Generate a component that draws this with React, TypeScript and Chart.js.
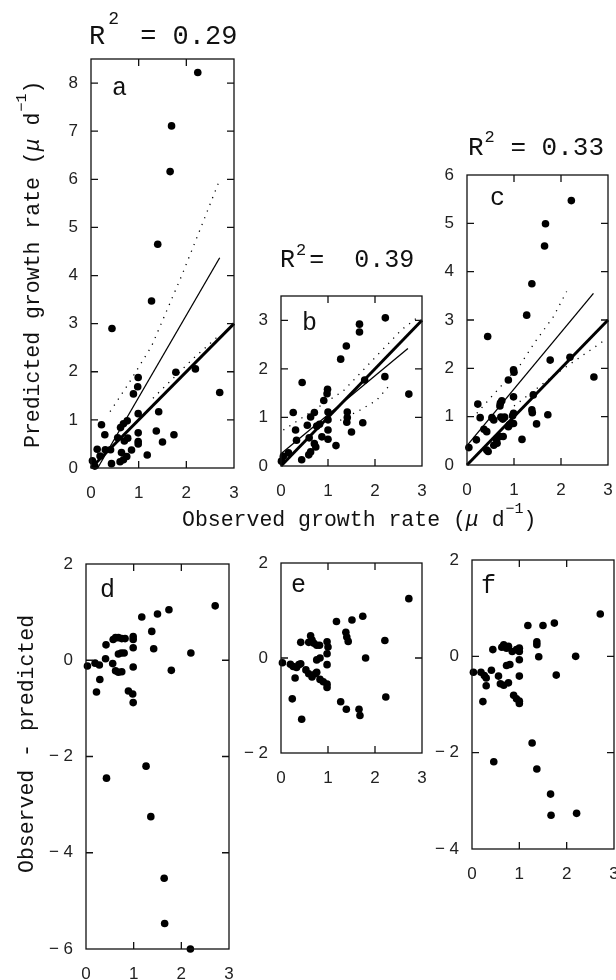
import React, { useEffect, useRef } from "react";
import { Chart, registerables } from "chart.js";

Chart.register(...registerables);

// ---------------- data ----------------
const OBS_TICKS = [0, 1, 2, 3];
const A_TICKS = [0, 1, 2, 3, 4, 5, 6, 7, 8];
const B_TICKS = [0, 1, 2, 3];
const C_TICKS = [0, 1, 2, 3, 4, 5, 6];
const D_TICKS = [-6, -4, -2, 0, 2];
const E_TICKS = [-2, 0, 2];
const F_TICKS = [-4, -2, 0, 2];

const R2_VALUES = ["0.29", "0.39", "0.33"];
const LETTERS = ["a", "b", "c", "d", "e", "f"];

// panel a: observed vs predicted
const aObs = [2.24, 1.69, 1.66, 1.40, 1.27, 0.44, 1.78, 2.19, 2.70, 0.99, 0.98, 0.89, 0.99, 0.99, 0.99, 0.99, 1.42, 1.37, 1.50, 1.74, 1.18, 0.22, 0.29, 0.30, 0.19, 0.03, 0.08, 0.43, 0.41, 0.56, 0.62, 0.68, 0.76, 0.70, 0.77, 0.61, 0.68, 0.75, 0.85, 0.64, 0.13];
const aPred = [8.22, 7.11, 6.16, 4.65, 3.47, 2.90, 1.99, 2.06, 1.57, 1.88, 1.69, 1.54, 1.13, 0.73, 0.55, 0.50, 1.17, 0.77, 0.54, 0.69, 0.27, 0.90, 0.69, 0.38, 0.25, 0.15, 0.04, 0.09, 0.38, 0.63, 0.84, 0.92, 0.98, 0.56, 0.62, 0.13, 0.17, 0.24, 0.375, 0.32, 0.39];
const aFitObs = [0.14, 2.70];
const aFitPred = [0.0, 4.37];
const aUpperObs = [0.40, 0.78, 1.27, 1.90, 2.29, 2.68];
const aUpperPred = [1.17, 1.74, 2.53, 3.99, 4.96, 5.94];
const aLowerObs = [1.30, 2.15, 2.67];
const aLowerPred = [1.45, 2.28, 2.74];

// panel b
const bObs = [2.22, 1.67, 1.67, 1.39, 1.27, 2.21, 2.72, 1.78, 0.45, 0.99, 0.98, 0.91, 0.26, 0.71, 0.63, 1.00, 1.00, 1.41, 1.41, 1.40, 1.74, 1.50, 0.56, 0.76, 0.82, 0.31, 1.00, 1.00, 0.33, 0.60, 0.87, 0.71, 0.74, 1.17, 0.63, 0.59, 0.44, 0.05, 0.01, 0.16];
const bPred = [3.05, 2.92, 2.76, 2.47, 2.20, 1.84, 1.48, 1.77, 1.72, 1.58, 1.49, 1.35, 1.10, 1.10, 1.01, 1.11, 0.95, 1.11, 1.00, 0.90, 0.89, 0.70, 0.84, 0.82, 0.86, 0.74, 0.74, 0.55, 0.53, 0.58, 0.60, 0.46, 0.39, 0.42, 0.29, 0.23, 0.13, 0.20, 0.10, 0.27];
const bFitObs = [0.0, 2.70];
const bFitPred = [0.25, 2.42];
const bUpperObs = [0.05, 1.33, 2.56, 2.88];
const bUpperPred = [0.74, 1.55, 2.80, 3.04];
const bLowerObs = [1.26, 1.68, 2.03, 2.31];
const bLowerPred = [0.94, 1.15, 1.35, 1.66];

// panel c
const cObs = [2.22, 1.67, 1.65, 1.38, 1.27, 0.44, 1.77, 2.19, 2.70, 0.99, 1.00, 0.88, 0.99, 1.41, 1.38, 1.39, 1.72, 1.48, 1.17, 0.23, 0.28, 0.53, 0.57, 0.71, 0.74, 0.70, 0.76, 0.72, 0.80, 0.99, 0.97, 0.36, 0.42, 0.90, 0.95, 0.88, 0.99, 0.70, 0.77, 0.63, 0.64, 0.57, 0.42, 0.45, 0.20, 0.04];
const cPred = [5.47, 4.99, 4.53, 3.75, 3.10, 2.66, 2.17, 2.23, 1.82, 1.97, 1.92, 1.76, 1.41, 1.45, 1.14, 1.08, 1.04, 0.85, 0.53, 1.26, 0.98, 0.98, 0.93, 1.28, 1.33, 1.22, 0.95, 0.99, 0.99, 1.07, 1.02, 0.74, 0.69, 0.83, 0.86, 0.79, 0.86, 0.59, 0.59, 0.52, 0.45, 0.41, 0.31, 0.28, 0.52, 0.36];
const cFitObs = [0.0, 2.69];
const cFitPred = [0.40, 3.55];
const cUpperObs = [0.21, 0.49, 1.13, 1.45, 1.84, 2.12];
const cUpperPred = [1.07, 1.38, 2.07, 2.55, 3.07, 3.59];
const cLowerObs = [1.00, 1.84, 2.94];
const cLowerPred = [1.22, 1.85, 2.59];

// 1:1 line
const ONE_OBS = [0, 3];
const ONE_PRED = [0, 3];

// panel d: observed - predicted
const dObs = [2.71, 1.74, 1.50, 1.17, 1.38, 1.42, 2.20, 1.79, 0.99, 0.99, 0.99, 0.99, 0.89, 0.98, 0.99, 0.57, 0.62, 0.68, 0.75, 0.82, 0.68, 0.74, 0.80, 0.42, 0.41, 0.56, 0.62, 0.68, 0.75, 0.03, 0.19, 0.28, 0.29, 0.22, 1.26, 0.43, 1.36, 1.64, 1.65, 2.19];
const dRes = [1.13, 1.05, 0.96, 0.90, 0.60, 0.24, 0.15, -0.21, 0.49, 0.43, 0.26, -0.14, -0.64, -0.70, -0.88, 0.43, 0.47, 0.47, 0.45, 0.45, 0.13, 0.15, 0.15, 0.32, 0.03, -0.07, -0.22, -0.25, -0.24, -0.12, -0.06, -0.10, -0.40, -0.66, -2.20, -2.45, -3.25, -4.53, -5.47, -6.0];

// panel e
const eObs = [2.72, 1.74, 1.51, 1.18, 1.38, 1.40, 1.43, 2.21, 1.80, 2.23, 1.27, 1.39, 1.66, 1.68, 0.44, 0.24, 0.30, 0.03, 0.20, 0.26, 0.33, 0.38, 0.42, 0.42, 0.63, 0.66, 0.70, 0.76, 0.82, 0.59, 0.98, 1.00, 0.98, 0.76, 0.83, 0.98, 0.53, 0.59, 0.66, 0.73, 0.76, 0.83, 0.90, 0.98, 0.98];
const eRes = [1.25, 0.88, 0.80, 0.77, 0.54, 0.44, 0.35, 0.37, 0.00, -0.82, -0.92, -1.08, -1.08, -1.21, -1.29, -0.86, -0.42, -0.10, -0.13, -0.18, -0.20, -0.14, -0.12, 0.33, 0.47, 0.38, 0.31, 0.27, 0.27, 0.33, 0.34, 0.23, 0.09, -0.04, 0.00, -0.14, -0.25, -0.33, -0.40, -0.33, -0.30, -0.45, -0.50, -0.55, -0.62];

// panel f
const fObs = [2.71, 1.74, 1.50, 1.18, 1.37, 1.37, 1.41, 2.19, 1.78, 1.27, 1.37, 0.46, 1.66, 1.67, 2.21, 0.44, 0.63, 0.67, 0.73, 0.77, 0.85, 0.94, 1.00, 1.00, 1.00, 1.00, 0.73, 0.80, 0.03, 0.19, 0.26, 0.30, 0.41, 0.30, 0.23, 0.56, 0.60, 0.67, 0.77, 0.88, 0.94, 1.00, 1.00];
const fRes = [0.88, 0.69, 0.64, 0.64, 0.30, 0.24, -0.01, 0.00, -0.39, -1.80, -2.34, -2.19, -2.86, -3.30, -3.26, 0.14, 0.19, 0.24, 0.17, 0.21, 0.10, 0.14, 0.17, 0.10, -0.07, -0.41, -0.19, -0.17, -0.33, -0.33, -0.40, -0.45, -0.29, -0.61, -0.94, -0.41, -0.57, -0.60, -0.55, -0.81, -0.88, -0.93, -0.98];

// ---------------- layout ----------------
type LineSpec = { xs: number[]; ys: number[]; width: number; dash?: number[] };
type PanelCfg = {
  left: number; top: number; w: number; h: number;
  yMin: number; yMax: number; yTicks: number[];
  letter: string; lx: number; ly: number;
  xs: number[]; ys: number[];
  lines: LineSpec[];
};

const DOT = [1.2, 6];

const PANELS: PanelCfg[] = [
  {
    left: 91, top: 59, w: 143, h: 409, yMin: 0, yMax: 8.5, yTicks: A_TICKS,
    letter: LETTERS[0], lx: 21, ly: 36, xs: aObs, ys: aPred,
    lines: [
      { xs: ONE_OBS, ys: ONE_PRED, width: 3 },
      { xs: aFitObs, ys: aFitPred, width: 1.3 },
      { xs: aUpperObs, ys: aUpperPred, width: 1.3, dash: DOT },
      { xs: aLowerObs, ys: aLowerPred, width: 1.3, dash: DOT },
    ],
  },
  {
    left: 281, top: 296, w: 141, h: 170, yMin: 0, yMax: 3.5, yTicks: B_TICKS,
    letter: LETTERS[1], lx: 21, ly: 34, xs: bObs, ys: bPred,
    lines: [
      { xs: ONE_OBS, ys: ONE_PRED, width: 3 },
      { xs: bFitObs, ys: bFitPred, width: 1.3 },
      { xs: bUpperObs, ys: bUpperPred, width: 1.3, dash: DOT },
      { xs: bLowerObs, ys: bLowerPred, width: 1.3, dash: DOT },
    ],
  },
  {
    left: 467, top: 175, w: 141, h: 290, yMin: 0, yMax: 6, yTicks: C_TICKS,
    letter: LETTERS[2], lx: 23, ly: 30, xs: cObs, ys: cPred,
    lines: [
      { xs: ONE_OBS, ys: ONE_PRED, width: 3 },
      { xs: cFitObs, ys: cFitPred, width: 1.3 },
      { xs: cUpperObs, ys: cUpperPred, width: 1.3, dash: DOT },
      { xs: cLowerObs, ys: cLowerPred, width: 1.3, dash: DOT },
    ],
  },
  {
    left: 86, top: 564, w: 143, h: 385, yMin: -6, yMax: 2, yTicks: D_TICKS,
    letter: LETTERS[3], lx: 14, ly: 33, xs: dObs, ys: dRes, lines: [],
  },
  {
    left: 281, top: 563, w: 141, h: 190, yMin: -2, yMax: 2, yTicks: E_TICKS,
    letter: LETTERS[4], lx: 10, ly: 29, xs: eObs, ys: eRes, lines: [],
  },
  {
    left: 472, top: 560, w: 142, h: 289, yMin: -4, yMax: 2, yTicks: F_TICKS,
    letter: LETTERS[5], lx: 9, ly: 33, xs: fObs, ys: fRes, lines: [],
  },
];

const MONO = '"Liberation Mono", "DejaVu Sans Mono", monospace';
const TICK_FONT = { family: '"Liberation Sans", Arial, sans-serif', size: 17 };

const framePlugin = {
  id: "frameTicks",
  afterDraw(chart: any, _args: any, opts: any) {
    const { ctx, chartArea, scales } = chart;
    const { left, top, right, bottom } = chartArea;
    ctx.save();
    ctx.strokeStyle = "#111";
    ctx.lineWidth = 1.3;
    ctx.strokeRect(left, top, right - left, bottom - top);
    const L = 7;
    ctx.beginPath();
    for (const v of opts.xMarks as number[]) {
      const px = scales.x.getPixelForValue(v);
      ctx.moveTo(px, top); ctx.lineTo(px, top + L);
      ctx.moveTo(px, bottom); ctx.lineTo(px, bottom - L);
    }
    for (const v of opts.yMarks as number[]) {
      const py = scales.y.getPixelForValue(v);
      ctx.moveTo(left, py); ctx.lineTo(left + L, py);
      ctx.moveTo(right, py); ctx.lineTo(right - L, py);
    }
    ctx.stroke();
    ctx.fillStyle = "#111";
    ctx.font = `25px ${MONO}`;
    ctx.textBaseline = "alphabetic";
    ctx.fillText(opts.letter, left + opts.lx, top + opts.ly);
    ctx.restore();
  },
};

const PADL = 52, PADR = 12, PADT = 12, PADB = 44;

function fmt(v: number) {
  return v < 0 ? "\u2212 " + Math.abs(v) : String(v);
}

function zeroPad(s: any) {
  s.paddingLeft = 0;
  s.paddingRight = 0;
  s.paddingTop = 0;
  s.paddingBottom = 0;
}

function Panel({ cfg }: { cfg: PanelCfg }) {
  const ref = useRef<HTMLCanvasElement>(null);
  useEffect(() => {
    const canvas = ref.current!;
    let W = PADL + cfg.w + PADR;
    let H = PADT + cfg.h + PADB;
    canvas.width = W;
    canvas.height = H;
    canvas.style.width = W + "px";
    canvas.style.height = H + "px";
    const datasets: any[] = [
      {
        data: cfg.xs.map((x, i) => ({ x, y: cfg.ys[i] })),
        pointRadius: 3.8,
        pointBackgroundColor: "#000",
        pointBorderWidth: 0,
        showLine: false,
        clip: false,
      },
      ...cfg.lines.map((l) => ({
        data: l.xs.map((x, i) => ({ x, y: l.ys[i] })),
        showLine: true,
        pointRadius: 0,
        borderColor: "#000",
        borderWidth: l.width,
        borderDash: l.dash || [],
        fill: false,
        tension: 0,
        clip: false,
      })),
    ];
    const xMarks = OBS_TICKS.filter((v) => v > 0 && v < 3);
    const yMarks = cfg.yTicks.filter((v) => v > cfg.yMin && v < cfg.yMax);
    const chart = new Chart(canvas, {
      type: "scatter",
      data: { datasets },
      options: {
        animation: false,
        responsive: false,
        maintainAspectRatio: false,
        devicePixelRatio: 1,
        events: [],
        layout: { padding: { left: 0, right: PADR, top: PADT, bottom: 0 } },
        plugins: {
          legend: { display: false },
          tooltip: { enabled: false },
          frameTicks: { xMarks, yMarks, letter: cfg.letter, lx: cfg.lx, ly: cfg.ly },
        } as any,
        scales: {
          x: {
            type: "linear",
            min: 0,
            max: 3,
            afterBuildTicks: (s: any) => { s.ticks = OBS_TICKS.map((v) => ({ value: v })); },
            afterFit: (s: any) => { s.height = PADB; zeroPad(s); },
            ticks: { padding: 15, font: TICK_FONT, color: "#222", autoSkip: false, maxRotation: 0, callback: (v: any) => fmt(Number(v)) },
            grid: { display: false, drawTicks: false },
            border: { display: false },
          },
          y: {
            type: "linear",
            min: cfg.yMin,
            max: cfg.yMax,
            afterBuildTicks: (s: any) => { s.ticks = cfg.yTicks.map((v) => ({ value: v })); },
            afterFit: (s: any) => { s.width = PADL; zeroPad(s); },
            ticks: { padding: 13, font: TICK_FONT, color: "#222", autoSkip: false, callback: (v: any) => fmt(Number(v)) },
            grid: { display: false, drawTicks: false },
            border: { display: false },
          },
        },
      } as any,
      plugins: [framePlugin],
    });
    let ca = chart.chartArea;
    const dw = cfg.w - (ca.right - ca.left);
    const dh = cfg.h - (ca.bottom - ca.top);
    if (Math.abs(dw) > 0.5 || Math.abs(dh) > 0.5) {
      W += dw;
      H += dh;
      chart.resize(W, H);
      ca = chart.chartArea;
    }
    canvas.style.left = cfg.left - ca.left + "px";
    canvas.style.top = cfg.top - ca.top + "px";
    return () => chart.destroy();
  }, []);
  return <canvas ref={ref} style={{ position: "absolute", left: 0, top: 0 }} />;
}

const ASC = 0.766;

function HText({ x, baseline, size, children }: any) {
  return (
    <div style={{ position: "absolute", left: x, top: baseline - ASC * size, fontSize: size, lineHeight: size + "px", fontFamily: MONO, whiteSpace: "pre", color: "#111" }}>
      {children}
    </div>
  );
}

function VText({ baselineX, startY, size, children }: any) {
  return (
    <div style={{ position: "absolute", left: baselineX - ASC * size, top: startY, fontSize: size, lineHeight: size + "px", fontFamily: MONO, whiteSpace: "pre", color: "#111", transform: "rotate(-90deg)", transformOrigin: "0 0" }}>
      {children}
    </div>
  );
}

function Sup({ raise, size, ml = 0, mr = 0, children }: any) {
  return (
    <span style={{ fontSize: size, position: "relative", top: -raise, lineHeight: 0, marginLeft: ml, marginRight: mr }}>{children}</span>
  );
}

function Unit() {
  return (
    <>
      (<i>μ</i> d<Sup raise={13} size={15} ml={1}>{"\u22121"}</Sup>)
    </>
  );
}

export default function App() {
  return (
    <div style={{ position: "fixed", left: 0, top: 0, width: 616, height: 980, background: "#fff", overflow: "hidden" }}>
      {PANELS.map((p, i) => (
        <Panel key={i} cfg={p} />
      ))}
      <HText x={89} baseline={45} size={27}>
        R<Sup raise={20} size={18} ml={3} mr={5}>2</Sup>{" = " + R2_VALUES[0]}
      </HText>
      <HText x={280} baseline={267} size={25}>
        R<Sup raise={12} size={17} ml={1} mr={3}>2</Sup>{"=  " + R2_VALUES[1]}
      </HText>
      <HText x={468} baseline={155} size={26}>
        R<Sup raise={13} size={17} ml={1} mr={0}>2</Sup>{" = " + R2_VALUES[2]}
      </HText>
      <HText x={182} baseline={526} size={21.5}>
        {"Observed growth rate "}<Unit />
      </HText>
      <VText baselineX={39} startY={448} size={21.5}>
        {"Predicted growth rate "}<Unit />
      </VText>
      <VText baselineX={33} startY={873} size={21.5}>
        {"Observed - predicted"}
      </VText>
    </div>
  );
}
